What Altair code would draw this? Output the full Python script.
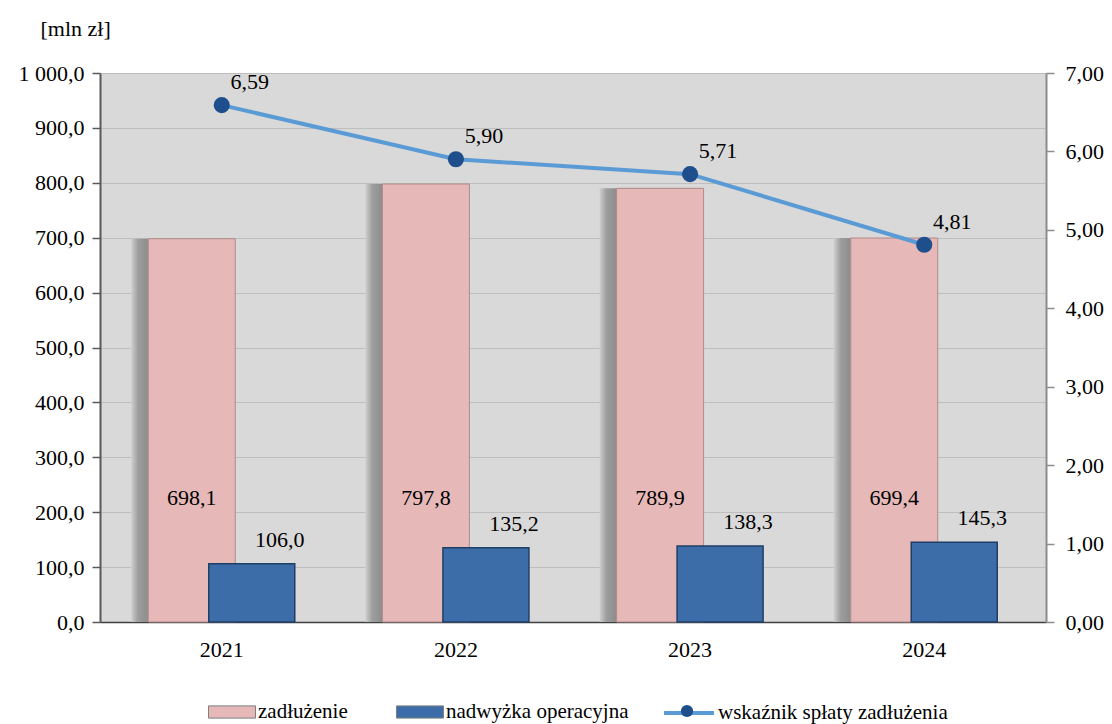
import altair as alt
import pandas as pd

years = ["2021", "2022", "2023", "2024"]
zadluzenie = [698.1, 797.8, 789.9, 699.4]
nadwyzka = [106.0, 135.2, 138.3, 145.3]
wskaznik = [6.59, 5.90, 5.71, 4.81]
series_names = ["zadłużenie", "nadwyżka operacyjna", "wskaźnik spłaty zadłużenia"]
left_ticks = list(range(0, 1001, 100))
right_ticks = [0, 1, 2, 3, 4, 5, 6, 7]

df = pd.DataFrame({"rok": years, "zad": zadluzenie, "nad": nadwyzka, "wsk": wskaznik})

FONT = "Liberation Serif"
PINK = "#E6B9B8"
BLUE = "#3D6DA9"
LINE = "#5B9BD5"
DOT = "#1F4E8C"

x = alt.X("rok:N", scale=alt.Scale(paddingInner=0, paddingOuter=0.02),
          axis=alt.Axis(title=None, labelAngle=0, ticks=False, labelPadding=17,
                        domainColor="#404040", domainWidth=1.5, grid=False,
                        labelFont=FONT, labelFontSize=22, labelColor="black"))

yL = alt.Scale(domain=[0, 1000], nice=False)
axL = alt.Axis(title="[mln zł]", titleAngle=0, titleAlign="left", titleBaseline="middle",
               titleX=-60, titleY=-45, titleFont=FONT, titleFontSize=22, titleFontWeight="normal",
               titleColor="black", labelFont=FONT, labelFontSize=22, labelColor="black",
               format=",.1f", values=left_ticks, grid=True, gridColor="#BEBEBE", gridWidth=1,
               tickSize=8, labelPadding=8, domainColor="#595959", domainWidth=2,
               tickColor="#595959", tickWidth=1.5)
yR = alt.Scale(domain=[0, 7], nice=False)
axR = alt.Axis(orient="right", title=None, format=",.2f", values=right_ticks, grid=False,
               labelFont=FONT, labelFontSize=22, labelColor="black",
               tickSize=8, labelPadding=11, domainColor="#8C8C8C", domainWidth=2,
               tickColor="#8C8C8C", tickWidth=1.5)

color_scale = alt.Scale(domain=series_names[:2], range=[PINK, BLUE])
color_legend = alt.Legend(title=None, orient="none", legendX=108, legendY=615,
                          direction="horizontal", symbolType="M-1,-0.26H1V0.26H-1Z",
                          symbolSize=2209, symbolStrokeColor="#7F7F7F", symbolStrokeWidth=1,
                          labelFont=FONT, labelFontSize=21, labelColor="black", labelOffset=2,
                          labelLimit=400, columnPadding=46, padding=0, symbolOpacity=1)
stroke_legend = alt.Legend(title=None, orient="none", legendX=562, legendY=613,
                           symbolType="stroke", symbolSize=2500, symbolStrokeWidth=4,
                           labelFont=FONT, labelFontSize=21, labelColor="black", labelOffset=2,
                           labelLimit=400, padding=0, symbolOpacity=1, zindex=0)
dot_legend = alt.Legend(title=None, orient="none", legendX=580.5, legendY=631.5,
                        symbolType="circle", symbolSize=150, symbolStrokeWidth=0,
                        labelOpacity=0, labelFontSize=1, labelOffset=0, padding=0,
                        symbolOpacity=1, zindex=2)

base = alt.Chart(df)

yZ = alt.Y("zad:Q", scale=yL, axis=axL)
yN = alt.Y("nad:Q", scale=yL, axis=axL)
yLab = alt.Y("ly:Q", scale=yL, axis=axL)
yW = alt.Y("wsk:Q", scale=yR, axis=axR)

shadow_grad = alt.Gradient(
    gradient="linear", x1=0, x2=1, y1=0, y2=0,
    stops=[alt.GradientStop(offset=0, color="#CFCFCF"),
           alt.GradientStop(offset=0.4, color="#9E9E9E"),
           alt.GradientStop(offset=1, color="#8C8C8C")],
)

shadow = base.mark_bar(size=17, xOffset=-82, color=shadow_grad, opacity=1).encode(x=x, y=yZ)

bars_z = base.transform_calculate(s="'zadłużenie'").mark_bar(
    size=87, xOffset=-30, stroke="#B08A88", strokeWidth=1, opacity=1
).encode(x=x, y=yZ, color=alt.Color("s:N", scale=color_scale, legend=color_legend))

bars_n = base.transform_calculate(s="'nadwyżka operacyjna'").mark_bar(
    size=86, xOffset=30, stroke="#1F3F66", strokeWidth=1.5, opacity=1
).encode(x=x, y=yN, color=alt.Color("s:N", scale=color_scale, legend=color_legend))

lab_z = base.transform_calculate(ly="225").mark_text(
    xOffset=-30, font=FONT, fontSize=22, color="black", baseline="middle"
).encode(x=x, y=yLab, text=alt.Text("zad:Q", format=",.1f"))

lab_n = base.mark_text(
    xOffset=58, dy=-24, font=FONT, fontSize=22, color="black", baseline="middle"
).encode(x=x, y=yN, text=alt.Text("nad:Q", format=",.1f"))

line = base.transform_calculate(s2="'wskaźnik spłaty zadłużenia'").mark_line(
    strokeWidth=4
).encode(x=x, y=yW,
         stroke=alt.Stroke("s2:N", scale=alt.Scale(domain=[series_names[2]], range=[LINE]),
                           legend=stroke_legend))

pts = base.transform_calculate(s3="' '").mark_point(
    filled=True, size=260, opacity=1
).encode(x=x, y=yW,
         fill=alt.Fill("s3:N", scale=alt.Scale(domain=[" "], range=[DOT]), legend=dot_legend))

lab_w = base.mark_text(dx=28, dy=-23, font=FONT, fontSize=22, color="black",
                       baseline="middle").encode(x=x, y=yW, text=alt.Text("wsk:Q", format=",.2f"))

left = alt.layer(shadow, bars_z, bars_n, lab_z, lab_n)
right = alt.layer(line, pts, lab_w)

chart = alt.layer(left, right).resolve_scale(y="independent").properties(
    width=946, height=549,
    padding={"left": 92, "top": 65, "right": 58, "bottom": 110},
    autosize=alt.AutoSizeParams(type="none"),
).configure(
    font=FONT,
    locale={"number": {"decimal": ",", "thousands": "\u00a0", "grouping": [3],
                       "currency": ["", " zł"]}}
).configure_view(fill="#D9D9D9", stroke=None).configure_axis(
    labelFont=FONT, labelFontSize=22, labelColor="black"
)

chart.save("out.html", embed_options={"renderer": "svg", "actions": False})
